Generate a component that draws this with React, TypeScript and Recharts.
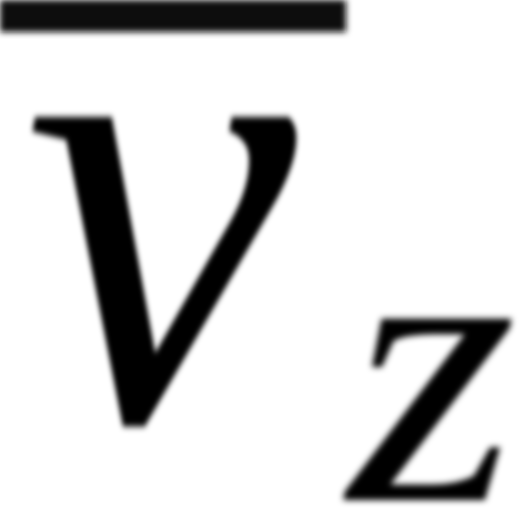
import React from 'react';
import { ScatterChart, Scatter, XAxis, YAxis, ReferenceArea } from 'recharts';

// Layout units of the expression  \bar{v}_z  (1 unit = 1 px of the 520 box)
const glyphs = ['v', 'z'];
const glyphRoles = ['base', 'sub'];
const glyphLeft = [24, 348];
const glyphBaseline = [420, 500];
const barStart = [0];
const barEnd = [346];
const barTop = [0];
const barBottom = [32];

const points = glyphs.map((g, i) => ({
  x: glyphLeft[i],
  y: glyphBaseline[i],
  glyph: g,
  role: glyphRoles[i],
}));

const roleStyle: Record<string, { size: number; sx: number }> = {
  base: { size: 660, sx: 0.93 },
  sub: { size: 395, sx: 1.1 },
};

const GlyphShape = (props: any) => {
  const { cx, cy, payload } = props;
  const st = roleStyle[payload.role];
  return (
    <text
      x={0}
      y={0}
      transform={`translate(${cx},${cy}) scale(${st.sx},1)`}
      fontFamily="'Liberation Serif', 'DejaVu Serif', serif"
      fontStyle="italic"
      fontSize={st.size}
      fill="#000"
      filter="url(#soft)"
    >
      {payload.glyph}
    </text>
  );
};

export default function App() {
  return (
    <div style={{ position: 'absolute', left: 0, top: 0, width: 520, height: 520, background: '#fff' }}>
      <ScatterChart width={520} height={520} margin={{ top: 0, right: 0, bottom: 0, left: 0 }}>
        <defs>
          <filter id="soft" x="-20%" y="-20%" width="140%" height="140%">
            <feGaussianBlur stdDeviation="3" />
          </filter>
        </defs>
        <XAxis type="number" dataKey="x" domain={[0, 520]} hide allowDataOverflow />
        <YAxis type="number" dataKey="y" domain={[0, 520]} reversed hide allowDataOverflow />
        <ReferenceArea
          x1={barStart[0]}
          x2={barEnd[0]}
          y1={barTop[0]}
          y2={barBottom[0]}
          fill="#111"
          fillOpacity={1}
          stroke="none"
          ifOverflow="visible"
          filter="url(#soft)"
        />
        <Scatter data={points} shape={GlyphShape} isAnimationActive={false} />
      </ScatterChart>
    </div>
  );
}
